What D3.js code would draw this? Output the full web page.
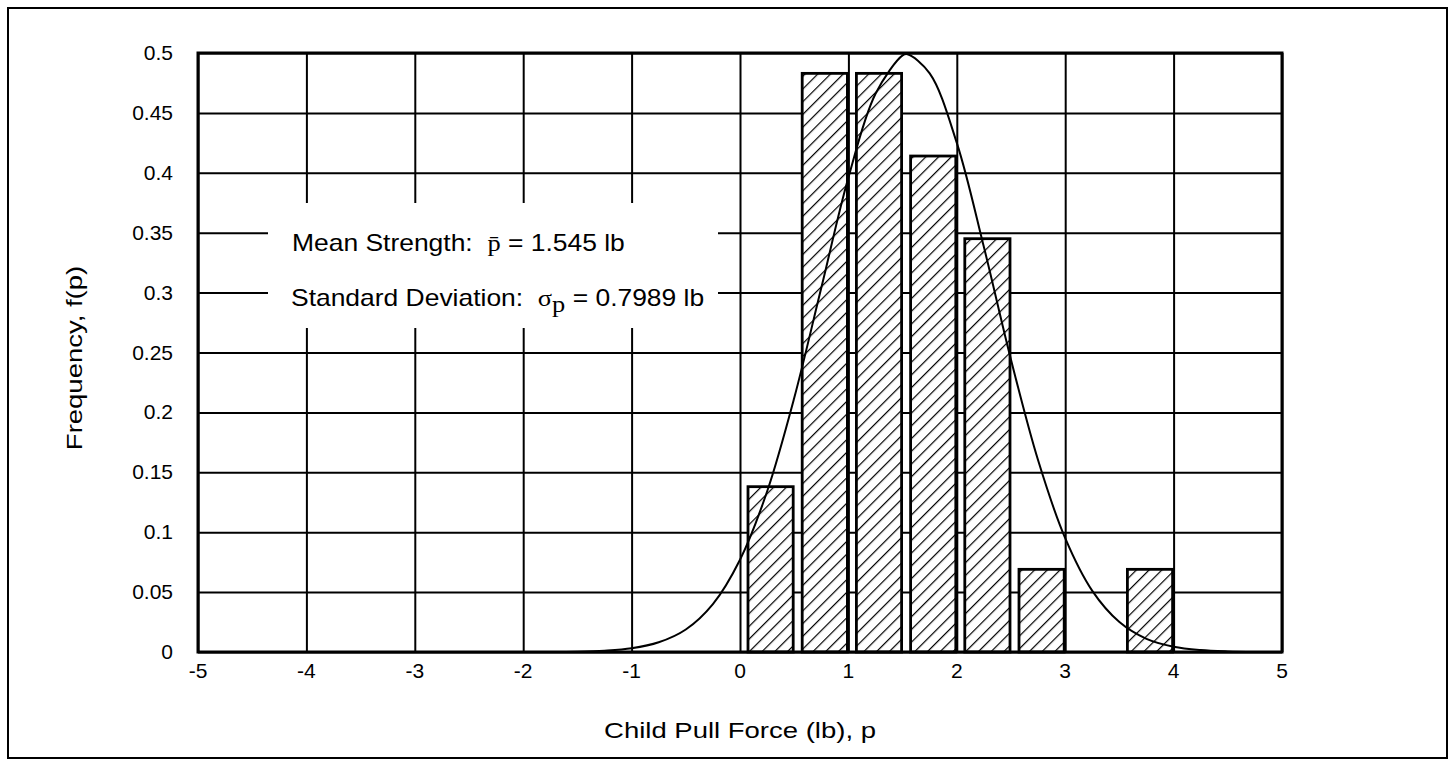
<!DOCTYPE html>
<html>
<head>
<meta charset="utf-8">
<script src="https://cdn.jsdelivr.net/npm/d3@7"></script>
<style>
  body { margin: 0; background: #fff; }
  text { font-family: "Liberation Sans", Arial, sans-serif; fill: #000; white-space: pre; }
  .serif { font-family: "Liberation Serif", "Times New Roman", serif; }
</style>
</head>
<body>
<script>
// histogram bins (lower edge, width 0.5) and frequency density
var binStarts = [0, 0.5, 1, 1.5, 2, 2.5, 3, 3.5];
var binFreq = [0.138, 0.483, 0.483, 0.414, 0.345, 0.069, 0, 0.069];

// fitted curve
var curveX = [-1.75, -1.5, -1.25, -1, -0.75, -0.5, -0.25, 0, 0.25, 0.5, 0.75, 1, 1.25, 1.5, 1.545,
              1.75, 2, 2.25, 2.5, 2.75, 3, 3.25, 3.5, 3.75, 4, 4.25, 4.5, 4.75];
var curveY = [0.0001, 0.0003, 0.0011, 0.0031, 0.0081, 0.0188, 0.040, 0.077, 0.134, 0.212, 0.304, 0.396, 0.466, 0.498, 0.499,
              0.483, 0.425, 0.338, 0.244, 0.160, 0.095, 0.051, 0.025, 0.011, 0.0044, 0.0016, 0.0005, 0.0001];

var xTicks = [-5, -4, -3, -2, -1, 0, 1, 2, 3, 4, 5];
var yTicks = [0, 0.05, 0.1, 0.15, 0.2, 0.25, 0.3, 0.35, 0.4, 0.45, 0.5];
var yTickLabels = ["0", "0.05", "0.1", "0.15", "0.2", "0.25", "0.3", "0.35", "0.4", "0.45", "0.5"];

var width = 1453, height = 761;
var pLeft = 198, pRight = 1282, pTop = 53, pBottom = 652;

var svg = d3.select("body").append("svg")
    .attr("xmlns", "http://www.w3.org/2000/svg")
    .attr("width", width)
    .attr("height", height);

var x = d3.scaleLinear().domain([-5, 5]).range([pLeft, pRight]);
var y = d3.scaleLinear().domain([0, 0.5]).range([pBottom, pTop]);

// hatch pattern
svg.append("defs").append("pattern")
    .attr("id", "hatch")
    .attr("patternUnits", "userSpaceOnUse")
    .attr("width", 9).attr("height", 9)
    .attr("patternTransform", "rotate(45)")
    .append("line")
        .attr("x1", 0).attr("y1", 0).attr("x2", 0).attr("y2", 9)
        .attr("stroke", "#000").attr("stroke-width", 2.4);

// outer frame
svg.append("rect")
    .attr("x", 8).attr("y", 8).attr("width", 1439).attr("height", 750)
    .attr("fill", "none").attr("stroke", "#000").attr("stroke-width", 2);

// grid
svg.append("g")
    .attr("transform", "translate(0," + pBottom + ")")
    .call(d3.axisBottom(x).tickValues(xTicks).tickSize(-(pBottom - pTop)).tickFormat(""));
svg.append("g")
    .attr("transform", "translate(" + pLeft + ",0)")
    .call(d3.axisLeft(y).tickValues(yTicks).tickSize(-(pRight - pLeft)).tickFormat(""));
svg.selectAll(".domain").remove();
svg.selectAll(".tick line").attr("stroke", "#000").attr("stroke-width", 2);

// tick labels
svg.append("g").selectAll("text")
    .data(xTicks)
    .enter().append("text")
        .attr("x", d => x(d))
        .attr("y", pBottom + 26)
        .attr("text-anchor", "middle")
        .style("font-size", "21px")
        .text(d => d);
svg.append("g").selectAll("text")
    .data(yTicks)
    .enter().append("text")
        .attr("x", pLeft - 25)
        .attr("y", d => y(d) + 7)
        .attr("text-anchor", "end")
        .style("font-size", "21px")
        .text((d, i) => yTickLabels[i]);

// axis titles
svg.append("text")
    .attr("transform", "translate(" + ((pLeft + pRight) / 2) + ",738) scale(1.25,1)")
    .attr("text-anchor", "middle")
    .style("font-size", "22px")
    .text("Child Pull Force (lb), p");
svg.append("text")
    .attr("transform", "translate(82,358) rotate(-90) scale(1.25,1)")
    .attr("text-anchor", "middle")
    .style("font-size", "22px")
    .text("Frequency, f(p)");

// bars
var bars = svg.append("g");
var bw = x(0.5) - x(0);
var barData = binStarts.map((d, i) => ({ x0: d, f: binFreq[i] })).filter(d => d.f > 0);
bars.selectAll("rect.bg")
    .data(barData)
    .enter().append("rect")
        .attr("x", d => x(d.x0) + 8)
        .attr("y", d => y(d.f))
        .attr("width", bw - 9)
        .attr("height", d => pBottom - y(d.f))
        .attr("fill", "#fff");
bars.selectAll("rect.hatch")
    .data(barData)
    .enter().append("rect")
        .attr("x", d => x(d.x0) + 8)
        .attr("y", d => y(d.f))
        .attr("width", bw - 9)
        .attr("height", d => pBottom - y(d.f))
        .attr("fill", "url(#hatch)")
        .attr("stroke", "#000")
        .attr("stroke-width", 2.8);

// fitted curve
var line = d3.line()
    .x((d, i) => x(curveX[i]))
    .y((d, i) => y(curveY[i]))
    .curve(d3.curveCatmullRom);
svg.append("path")
    .attr("d", line(curveX))
    .attr("fill", "none")
    .attr("stroke", "#000")
    .attr("stroke-width", 2);

// plot frame
svg.append("rect")
    .attr("x", pLeft).attr("y", pTop).attr("width", pRight - pLeft).attr("height", pBottom - pTop)
    .attr("fill", "none").attr("stroke", "#000").attr("stroke-width", 3);

// statistics box
svg.append("rect")
    .attr("x", 268).attr("y", 203).attr("width", 450).attr("height", 125)
    .attr("fill", "#fff");

var t1 = svg.append("text")
    .attr("transform", "translate(292,251) scale(1.15,1)")
    .style("font-size", "23px");
t1.append("tspan").text("Mean Strength:  ");
t1.append("tspan").attr("class", "serif").text("p\u0304");
t1.append("tspan").text(" = 1.545 lb");

var t2 = svg.append("text")
    .attr("transform", "translate(291,306) scale(1.15,1)")
    .style("font-size", "23px");
t2.append("tspan").text("Standard Deviation:  ");
t2.append("tspan").attr("class", "serif").text("\u03c3");
t2.append("tspan").attr("class", "serif").attr("dy", 6).text("p");
t2.append("tspan").attr("dy", -6).text(" = 0.7989 lb");
</script>
</body>
</html>
